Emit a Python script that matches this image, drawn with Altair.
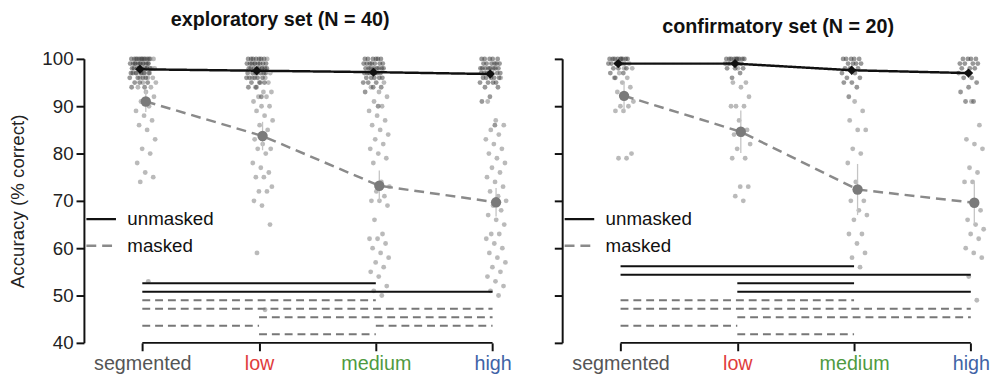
import json
import altair as alt
import pandas as pd

# ---------------- data ----------------
categories = ["segmented", "low", "medium", "high"]
category_colors = ["#555555", "#e03c3c", "#4f9a3f", "#3f63a6"]
conditions = ["unmasked", "masked"]

# exploratory set (N = 40) per-participant accuracy (% correct)
exp_segmented_unmasked = [100,100,100,100,100,100,100,100,100,99,99,99,99,99,99,99,99,98,98,98,98,98,98,98,98,97,97,97,97,97,97,96,96,96,96,95,95,95,94,94]
exp_segmented_masked = [53,74,75,76,78,80,81,83,85,86,87,88,89,90,91,92,93,94,94,95,95,96,96,96,97,97,97,97,98,98,98,98,99,99,99,99,100,100,100,100]
exp_low_unmasked = [100,100,100,100,100,100,100,99,99,99,99,99,99,99,99,98,98,98,98,98,98,98,98,97,97,97,97,97,97,96,96,96,96,96,95,95,95,94,94,92]
exp_low_masked = [47,59,65,69,70,72,72,73,75,75,76,77,78,80,81,81,82,83,85,86,87,88,89,90,90,91,92,92,93,93,94,95,95,96,96,97,97,98,99,100]
exp_medium_unmasked = [100,100,100,100,100,100,99,99,99,99,99,99,99,98,98,98,98,98,98,98,98,97,97,97,97,97,97,97,96,96,96,96,96,95,95,95,94,94,93,90]
exp_medium_masked = [50,51,52,54,55,56,57,58,59,60,61,62,62,63,66,69,70,70,71,72,73,74,78,79,80,81,82,83,84,85,86,87,88,89,90,91,92,93,94,95]
exp_high_unmasked = [100,100,100,100,100,99,99,99,99,99,99,98,98,98,98,98,98,98,98,97,97,97,97,97,97,97,96,96,96,96,96,95,95,95,95,94,94,92,91,86]
exp_high_masked = [50,51,52,53,54,55,56,57,58,59,60,61,62,63,63,65,66,67,68,69,70,71,72,73,74,75,76,77,78,79,80,81,82,83,84,85,86,87,91,96]

# confirmatory set (N = 20)
conf_segmented_unmasked = [100,100,100,100,100,100,100,100,99,99,99,99,99,99,98,98,98,97,97,96]
conf_segmented_masked = [79,79,80,89,89,90,90,91,92,93,94,95,96,96,97,98,98,99,99,100]
conf_low_unmasked = [100,100,100,100,100,100,100,100,100,99,99,99,99,99,99,98,98,98,97,96]
conf_low_masked = [70,71,73,73,79,79,81,82,84,84,85,87,90,90,90,92,94,95,95,98]
conf_medium_unmasked = [100,100,100,100,100,99,99,99,99,98,98,98,97,97,96,96,95,95,94,92]
conf_medium_masked = [56,58,59,61,63,63,66,67,68,70,70,74,78,80,81,85,85,87,89,91]
conf_high_unmasked = [100,100,100,100,99,99,99,99,98,98,98,97,97,96,96,95,94,93,91,91]
conf_high_masked = [49,54,58,59,60,62,63,64,65,66,68,74,74,76,77,81,82,83,86,91]

# group means and error half-widths
exp_mean_unmasked = [97.8, 97.5, 97.2, 96.8]
exp_mean_masked = [91.0, 83.7, 73.2, 69.7]
exp_err_unmasked = [0.5, 0.6, 0.6, 0.6]
exp_err_masked = [2.2, 3.0, 3.2, 3.0]
conf_mean_unmasked = [99.0, 99.0, 97.6, 97.0]
conf_mean_masked = [92.2, 84.6, 72.4, 69.6]
conf_err_unmasked = [0.6, 0.5, 1.0, 1.0]
conf_err_masked = [3.0, 4.5, 5.4, 4.5]

# significance bars: from, to, condition, stacking row
exp_sig_from = ["segmented", "segmented", "segmented", "segmented", "low", "segmented", "medium", "low"]
exp_sig_to = ["medium", "high", "medium", "high", "high", "low", "high", "medium"]
exp_sig_cond = ["unmasked", "unmasked", "masked", "masked", "masked", "masked", "masked", "masked"]
exp_sig_row = [2, 3, 4, 5, 6, 7, 7, 8]
conf_sig_from = ["segmented", "segmented", "low", "low", "segmented", "segmented", "low", "segmented", "low"]
conf_sig_to = ["medium", "high", "medium", "high", "medium", "high", "high", "low", "medium"]
conf_sig_cond = ["unmasked", "unmasked", "unmasked", "unmasked", "masked", "masked", "masked", "masked", "masked"]
conf_sig_row = [0, 1, 2, 3, 4, 5, 6, 7, 8]

# ---------------- tables ----------------
cat_idx = {c: i for i, c in enumerate(categories)}
point_sets = {
    "exp": {
        ("segmented", "unmasked"): exp_segmented_unmasked, ("segmented", "masked"): exp_segmented_masked,
        ("low", "unmasked"): exp_low_unmasked, ("low", "masked"): exp_low_masked,
        ("medium", "unmasked"): exp_medium_unmasked, ("medium", "masked"): exp_medium_masked,
        ("high", "unmasked"): exp_high_unmasked, ("high", "masked"): exp_high_masked,
    },
    "conf": {
        ("segmented", "unmasked"): conf_segmented_unmasked, ("segmented", "masked"): conf_segmented_masked,
        ("low", "unmasked"): conf_low_unmasked, ("low", "masked"): conf_low_masked,
        ("medium", "unmasked"): conf_medium_unmasked, ("medium", "masked"): conf_medium_masked,
        ("high", "unmasked"): conf_high_unmasked, ("high", "masked"): conf_high_masked,
    },
}
rows = []
for s, groups in point_sets.items():
    for (cat, cond), vals in groups.items():
        for v in vals:
            rows.append({"set": s, "k": cat_idx[cat], "condition": cond, "acc": v})
points = pd.DataFrame(rows)

mrows = []
for s, mu, mm, eu, em in [("exp", exp_mean_unmasked, exp_mean_masked, exp_err_unmasked, exp_err_masked),
                          ("conf", conf_mean_unmasked, conf_mean_masked, conf_err_unmasked, conf_err_masked)]:
    for i in range(len(categories)):
        mrows.append({"set": s, "k": i, "condition": "unmasked", "mean": mu[i], "err": eu[i]})
        mrows.append({"set": s, "k": i, "condition": "masked", "mean": mm[i], "err": em[i]})
means = pd.DataFrame(mrows)

srows = []
for s, fr, to, cd, rw in [("exp", exp_sig_from, exp_sig_to, exp_sig_cond, exp_sig_row),
                          ("conf", conf_sig_from, conf_sig_to, conf_sig_cond, conf_sig_row)]:
    for a, b, c, r in zip(fr, to, cd, rw):
        srows.append({"set": s, "k0": cat_idx[a], "k1": cat_idx[b], "condition": c, "row": r})
sig = pd.DataFrame(srows)

axis_line = pd.DataFrame({"k0": [0], "k1": [len(categories) - 1]})

# ---------------- chart ----------------
W, H = 444, 288
FONT = "Liberation Sans"

label_color = {
    "condition": [{"test": f"datum.value == {i}", "value": c} for i, c in enumerate(category_colors[:-1])],
    "value": category_colors[-1],
}
x_axis = alt.Axis(values=list(range(len(categories))),
                  labelExpr=f"{json.dumps(categories)}[datum.value]",
                  labelColor=label_color, labelFontSize=20, labelPadding=3,
                  labelOverlap=False, labelFlush=False,
                  domain=False, tickSize=8, tickWidth=2, tickColor="#111",
                  grid=False, title=None)
x_scale = alt.Scale(domain=[-0.5, 3.25], nice=False, zero=False)
y_scale = alt.Scale(domain=[40, 100], nice=False, zero=False)


def y_axis(first):
    common = dict(values=[40, 50, 60, 70, 80, 90, 100], domainColor="#111", domainWidth=2,
                  tickColor="#111", tickWidth=2, tickSize=8, grid=False)
    if first:
        return alt.Axis(labelFontSize=19, labelColor="#222", labelPadding=3,
                        title="Accuracy (% correct)", titleFontSize=19, titleFontWeight="normal",
                        titleColor="#222", titlePadding=15, **common)
    return alt.Axis(labels=False, title=None, minExtent=8, maxExtent=8, **common)


# horizontal strip-plot spread (layout only): golden-ratio sequence over row number
JITTER = ("datum.k + (datum.condition == 'masked' ? 0.03 : -0.02)"
          " + ((datum.rn * 0.6180339887) % 1 - 0.5) * 0.18")


def panel(s, title_text, first, title_dx):
    X = lambda f: alt.X(f, type="quantitative", scale=x_scale, axis=x_axis)
    Y = lambda f: alt.Y(f, type="quantitative", scale=y_scale, axis=y_axis(first))

    pts = (alt.Chart(points)
           .transform_filter(alt.datum.set == s)
           .transform_window(rn="row_number()", groupby=["k", "condition"])
           .transform_calculate(xpos=JITTER))
    pts_m = pts.transform_filter(alt.datum.condition == "masked").mark_circle(
        size=24, color="#959595", opacity=0.65).encode(x=X("xpos"), y=Y("acc"))
    pts_u = pts.transform_filter(alt.datum.condition == "unmasked").mark_circle(
        size=24, color="#333333", opacity=0.5).encode(x=X("xpos"), y=Y("acc"))

    mb = (alt.Chart(means)
          .transform_filter(alt.datum.set == s)
          .transform_calculate(xm="datum.k + (datum.condition == 'masked' ? 0.03 : -0.02)",
                               lo="datum.mean - datum.err", hi="datum.mean + datum.err"))
    err = mb.mark_rule(color="#c4c4c4", strokeWidth=1.3).encode(x=X("xm"), y=Y("lo"), y2="hi:Q")
    leg = alt.Legend(title=None, orient="none", legendX=1, legendY=146, symbolType="stroke",
                     symbolSize=900, symbolStrokeWidth=2.5, labelFontSize=19, labelColor="#111",
                     rowPadding=0, labelOffset=10, labelFont=FONT)
    line = mb.mark_line(strokeWidth=2.5).encode(
        x=X("xm"), y=Y("mean"),
        color=alt.Color("condition:N", scale=alt.Scale(domain=conditions, range=["#111111", "#8a8a8a"]), legend=leg),
        strokeDash=alt.StrokeDash("condition:N", scale=alt.Scale(domain=conditions, range=[[1, 0], [10, 6]]), legend=leg),
    )
    mk_m = mb.transform_filter(alt.datum.condition == "masked").mark_circle(
        size=110, color="#7a7a7a", opacity=1).encode(x=X("xm"), y=Y("mean"))
    mk_u = mb.transform_filter(alt.datum.condition == "unmasked").mark_point(
        shape="diamond", filled=True, size=90, color="#111", opacity=1).encode(x=X("xm"), y=Y("mean"))

    sb = (alt.Chart(sig).transform_filter(alt.datum.set == s)
          .transform_calculate(yrow="56.2 - 1.8 * datum.row"))
    sig_u = sb.transform_filter(alt.datum.condition == "unmasked").mark_rule(
        color="#111", strokeWidth=2).encode(x=X("k0"), x2="k1:Q", y=Y("yrow"))
    sig_m = sb.transform_filter(alt.datum.condition == "masked").mark_rule(
        color="#777", strokeWidth=2, strokeDash=[8, 5]).encode(x=X("k0"), x2="k1:Q", y=Y("yrow"))

    xline = alt.Chart(axis_line).mark_rule(color="#111", strokeWidth=2).encode(
        x=X("k0"), x2="k1:Q", y=alt.value(H))

    return alt.layer(pts_m, pts_u, err, line, mk_m, mk_u, sig_u, sig_m, xline).properties(
        width=W, height=H,
        title=alt.TitleParams(title_text, fontSize=20, fontWeight="bold", anchor="middle",
                              offset=20, dx=title_dx, color="#111", font=FONT),
    )


left = panel("exp", "exploratory set (N = 40)", True, -23)
right = panel("conf", "confirmatory set (N = 20)", False, -3)

chart = (alt.hconcat(left, right, spacing=32)
         .resolve_scale(color="independent", strokeDash="independent")
         .resolve_legend(color="independent", strokeDash="independent")
         .properties(padding={"left": 0, "top": 0, "right": 0, "bottom": 0})
         .configure(font=FONT)
         .configure_view(stroke=None))

chart.save("out.html", embed_options={"renderer": "svg", "actions": False})
